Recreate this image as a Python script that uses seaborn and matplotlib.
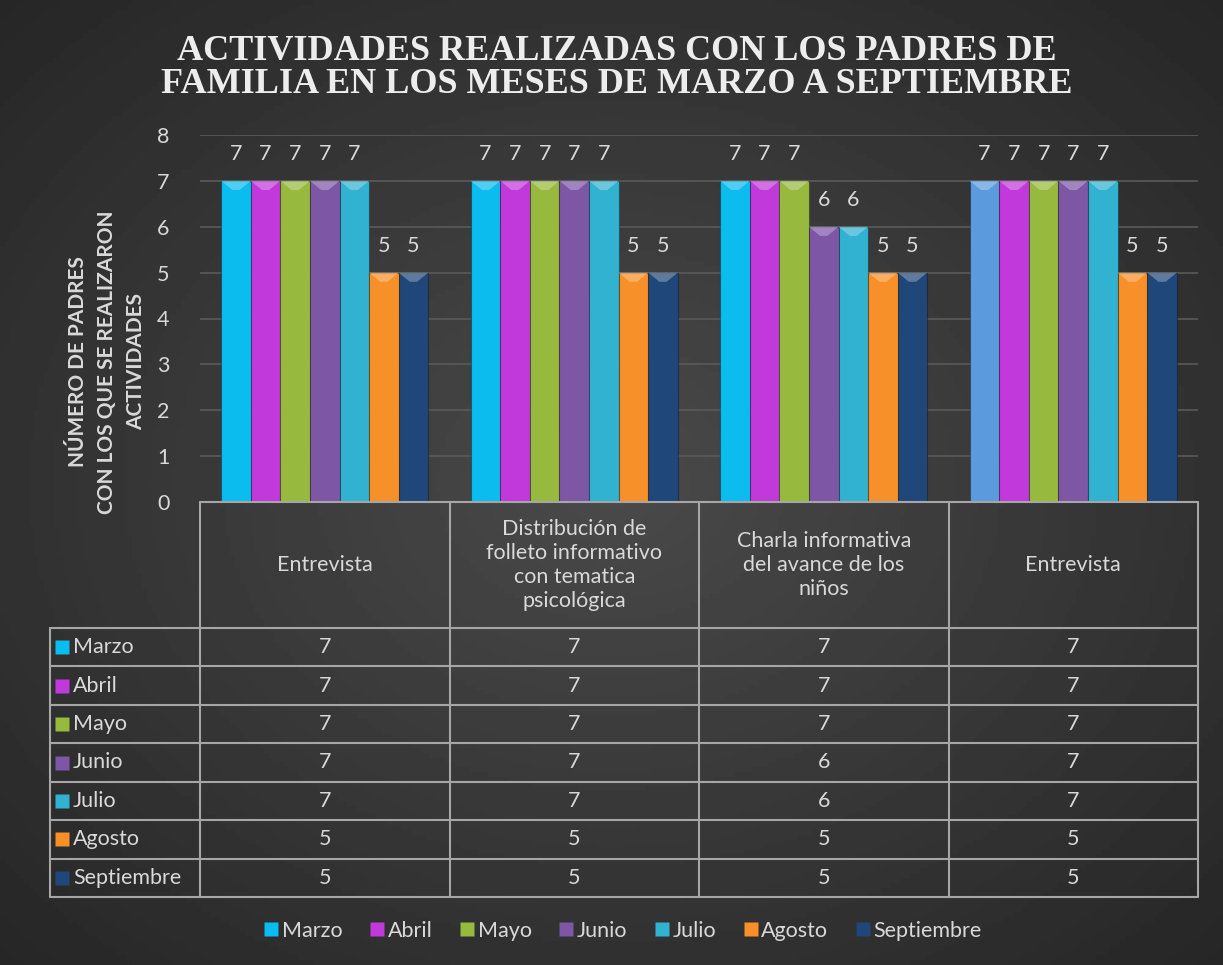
import numpy as np
import pandas as pd
import matplotlib
matplotlib.use('Agg')
import matplotlib.pyplot as plt
from matplotlib.lines import Line2D
from matplotlib.patches import Polygon
import matplotlib.colors as mcolors
import seaborn as sns

# datos del grafico
actividades = ['Entrevista',
               'Distribución de\nfolleto informativo\ncon tematica\npsicológica',
               'Charla informativa\ndel avance de los\nniños',
               'Entrevista']
meses = ['Marzo', 'Abril', 'Mayo', 'Junio', 'Julio', 'Agosto', 'Septiembre']
marzo = [7, 7, 7, 7]
abril = [7, 7, 7, 7]
mayo = [7, 7, 7, 7]
junio = [7, 7, 6, 7]
julio = [7, 7, 6, 7]
agosto = [5, 5, 5, 5]
septiembre = [5, 5, 5, 5]
series = [marzo, abril, mayo, junio, julio, agosto, septiembre]

colores = ['#0BBCEF', '#C139DA', '#97BA3E', '#7D56A6', '#30B2D0', '#F79028', '#20477A']
color_especial = '#5B9BDD'  # primer barra del ultimo grupo

W, H = 1223, 965
txt = '#D9D9D9'
fs = 15.5

sns.set_theme(style='dark')
plt.rcParams['font.family'] = ['Lato', 'DejaVu Sans']

filas = []
for m, vals in zip(meses, series):
    for i, v in enumerate(vals):
        filas.append({'cat': i, 'mes': m, 'valor': v})
df = pd.DataFrame(filas)

fig = plt.figure(figsize=(W / 100, H / 100), dpi=100)

# fondo con degradado radial
bg = fig.add_axes([0, 0, 1, 1], zorder=-10)
yy, xx = np.mgrid[0:1:200j, 0:1:250j]
r = np.sqrt((xx - 0.5) ** 2 + (yy - 0.5) ** 2) / 0.707
bg.imshow(0.29 - 0.14 * r, cmap='gray', vmin=0, vmax=1, aspect='auto', extent=[0, 1, 0, 1])
bg.axis('off')

# area del grafico
ax = fig.add_axes([200 / W, 1 - 502 / H, 998 / W, (502 - 135) / H])
ax.set_facecolor('none')
sns.barplot(data=df, x='cat', y='valor', hue='mes', hue_order=meses, palette=colores,
            width=0.83, gap=0, ax=ax, legend=False, edgecolor='none', saturation=1)
ax.containers[0][3].set_facecolor(color_especial)

# bisel sencillo arriba de cada barra
for cont in ax.containers:
    for b in cont:
        b.set_edgecolor((0, 0, 0, 0.3))
        b.set_linewidth(0.8)
        x0, w, top = b.get_x(), b.get_width(), b.get_height()
        c = np.array(mcolors.to_rgb(b.get_facecolor()))
        claro = 1 - (1 - c) * 0.6
        ax.add_patch(Polygon([[x0, top], [x0 + w, top], [x0 + w * 0.62, top - 0.2],
                              [x0 + w * 0.38, top - 0.2]], closed=True,
                             facecolor=claro, edgecolor='none', alpha=0.7, zorder=3))

for cont in ax.containers:
    ax.bar_label(cont, padding=12, color=txt, fontsize=fs)

ax.set_ylim(0, 8)
ax.set_yticks(range(0, 9))
ax.set_xlim(-0.5, 3.5)
ax.set_xticks([])
ax.set_xlabel('')
ax.set_ylabel('')
ax.grid(axis='y', color='#5A5A5A', linewidth=1.2)
ax.grid(axis='x', visible=False)
ax.tick_params(axis='y', colors=txt, labelsize=fs, pad=22, length=0)
for s in ax.spines.values():
    s.set_visible(False)
ax.set_axisbelow(True)

# titulo
fig.text(617 / W, 1 - 68 / H,
         'ACTIVIDADES REALIZADAS CON LOS PADRES DE\nFAMILIA EN LOS MESES DE MARZO A SEPTIEMBRE',
         ha='center', va='center', family=['Liberation Serif', 'DejaVu Serif'],
         fontweight='bold', fontsize=26, color='#EDEDED', linespacing=1.03)

# titulo eje y
fig.text(107 / W, 1 - 362 / H,
         'NÚMERO DE PADRES\nCON LOS QUE SE REALIZARON\nACTIVIDADES',
         rotation=90, ha='center', va='center', fontweight='bold', fontsize=15,
         color=txt, linespacing=1.55)

# tabla de datos
tab = fig.add_axes([0, 0, 1, 1], zorder=5)
tab.set_xlim(0, W)
tab.set_ylim(H, 0)
tab.axis('off')
tab.patch.set_alpha(0)

cols = [200, 449.5, 699, 948.5, 1198]
top, head_bot, bot = 502, 628, 897
row_h = (bot - head_bot) / len(meses)
lc = '#A6A6A6'
tab.plot([cols[0], cols[-1]], [top, top], color=lc, lw=1.5)
for k in range(len(meses) + 1):
    yk = head_bot + k * row_h
    tab.plot([50, cols[-1]], [yk, yk], color=lc, lw=1.5)
for c in cols:
    tab.plot([c, c], [top, bot], color=lc, lw=1.5)
tab.plot([50, 50], [head_bot, bot], color=lc, lw=1.5)

for i, a in enumerate(actividades):
    xc = (cols[i] + cols[i + 1]) / 2
    tab.text(xc, (top + head_bot) / 2, a, ha='center', va='center', color=txt,
             fontsize=fs, linespacing=1.27)
    for j, vals in enumerate(series):
        tab.text(xc, head_bot + (j + 0.5) * row_h, str(vals[i]), ha='center',
                 va='center', color=txt, fontsize=fs)

for j, m in enumerate(meses):
    yc = head_bot + (j + 0.5) * row_h
    tab.plot(62, yc, marker='s', markersize=9.5, color=colores[j], markeredgecolor='none')
    tab.text(73, yc, m, ha='left', va='center', color=txt, fontsize=fs)

# leyenda
handles = [Line2D([], [], marker='s', linestyle='none', markersize=9.5,
                  markerfacecolor=c, markeredgecolor='none') for c in colores]
fig.legend(handles, meses, loc='center', bbox_to_anchor=(620 / W, 1 - 931 / H), ncol=7,
           frameon=False, fontsize=fs, labelcolor=txt, handletextpad=-0.1,
           columnspacing=1.0, handlelength=1.2)

fig.savefig('out.png', dpi=100)
